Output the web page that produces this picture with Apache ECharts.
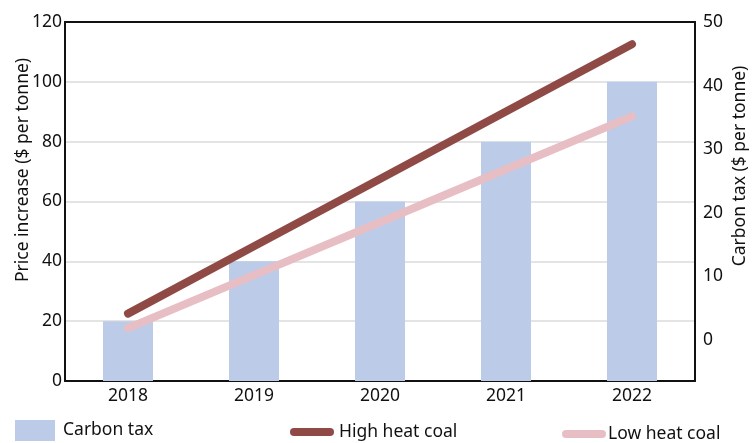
<!DOCTYPE html>
<html>
<head>
<meta charset="utf-8">
<script src="https://cdn.jsdelivr.net/npm/echarts@6/dist/echarts.min.js"></script>
<style>
  html, body { margin: 0; padding: 0; background: #fff; }
  #chart { width: 752px; height: 443px; }
</style>
</head>
<body>
<div id="chart"></div>
<script>
// Years on the category axis
const years = ['2018', '2019', '2020', '2021', '2022'];
// Carbon tax bars (plotted against the left axis)
const carbonTax = [20, 40, 60, 80, 100];
// Price increase per tonne of coal
const highHeatCoal = [22.52, 45.03, 67.55, 90.06, 112.58];
const lowHeatCoal = [17.69, 35.39, 53.08, 70.78, 88.47];
// Tick labels
const leftTicks = [0, 20, 40, 60, 80, 100, 120];
const rightTicks = [0, 10, 20, 30, 40, 50];

const FONT = '"Noto Sans", "Open Sans", "DejaVu Sans", sans-serif';
const TEXT = '#111111';
const SIZE = 17.5;
const FRAME = { show: true, onZero: false, lineStyle: { color: '#111', width: 2 } };

const chart = echarts.init(document.getElementById('chart'), null, { renderer: 'canvas' });

// rounded line swatch for the line legend entries
const pill = 'path://M4,0 L40,0 A4,4 0 0 1 40,8 L4,8 A4,4 0 0 1 4,0 Z';

chart.setOption({
  animation: false,
  backgroundColor: '#ffffff',
  textStyle: { fontFamily: FONT, color: TEXT },
  grid: { left: 65, right: 57, top: 22, bottom: 62, containLabel: false },
  legend: [
    {
      data: ['Carbon tax'], left: 10, top: 415, icon: 'rect',
      itemWidth: 40, itemHeight: 21, itemGap: 0,
      textStyle: { fontFamily: FONT, fontSize: SIZE, color: TEXT, padding: [6, 0, 0, 3] }
    },
    {
      data: ['High heat coal'], left: 285, top: 418, icon: pill,
      itemWidth: 44, itemHeight: 9, itemGap: 0,
      textStyle: { fontFamily: FONT, fontSize: SIZE, color: TEXT, padding: [0, 0, 0, 0] }
    },
    {
      data: ['Low heat coal'], left: 557, top: 420, icon: pill,
      itemWidth: 44, itemHeight: 9, itemGap: 0,
      textStyle: { fontFamily: FONT, fontSize: SIZE, color: TEXT, padding: [0, 0, 0, -3] }
    }
  ],
  xAxis: [
    {
      type: 'category', data: years, position: 'bottom',
      axisLine: FRAME, axisTick: { show: false },
      axisLabel: { fontFamily: FONT, fontSize: SIZE, color: TEXT, margin: 6 },
      splitLine: { show: false }
    },
    {
      type: 'category', data: years, position: 'top',
      axisLine: FRAME, axisTick: { show: false },
      axisLabel: { show: false }, splitLine: { show: false }
    }
  ],
  yAxis: [
    {
      type: 'value', min: 0, max: 120, interval: 20, position: 'left',
      axisLine: FRAME, axisTick: { show: false },
      axisLabel: {
        fontFamily: FONT, fontSize: SIZE, color: TEXT, margin: 3,
        customValues: leftTicks
      },
      splitLine: { show: true, lineStyle: { color: '#e4e4e4', width: 2 } }
    },
    {
      type: 'value', min: -6.45, max: 50, position: 'right',
      axisLine: FRAME, axisTick: { show: false },
      axisLabel: {
        fontFamily: FONT, fontSize: SIZE, color: TEXT, margin: 8,
        customValues: rightTicks
      },
      splitLine: { show: false }
    }
  ],
  graphic: [
    {
      type: 'text', x: 23, y: 170, rotation: Math.PI / 2,
      style: {
        text: 'Price increase ($ per tonne)', fontFamily: FONT, fontSize: SIZE,
        fill: TEXT, align: 'center', verticalAlign: 'middle'
      }
    },
    {
      type: 'text', x: 740, y: 166, rotation: Math.PI / 2,
      style: {
        text: 'Carbon tax ($ per tonne)', fontFamily: FONT, fontSize: SIZE,
        fill: TEXT, align: 'center', verticalAlign: 'middle'
      }
    }
  ],
  series: [
    {
      name: 'Carbon tax', type: 'bar', yAxisIndex: 0, data: carbonTax,
      barWidth: 50, itemStyle: { color: '#bccbe7' }
    },
    {
      name: 'High heat coal', type: 'line', yAxisIndex: 0, data: highHeatCoal,
      showSymbol: false, symbol: 'none',
      lineStyle: { color: '#8f4a46', width: 8, cap: 'round' },
      itemStyle: { color: '#8f4a46' }
    },
    {
      name: 'Low heat coal', type: 'line', yAxisIndex: 0, data: lowHeatCoal,
      showSymbol: false, symbol: 'none',
      lineStyle: { color: '#e8bec5', width: 8, cap: 'round' },
      itemStyle: { color: '#e8bec5' }
    }
  ]
});
</script>
</body>
</html>
